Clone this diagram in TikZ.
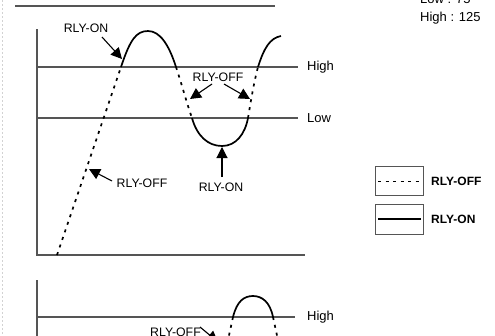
\documentclass[tikz,border=0pt]{standalone}
\usepackage{fontspec}
\setmainfont{Liberation Sans}
\usetikzlibrary{arrows.meta}
\definecolor{axisgray}{HTML}{555555}
\begin{document}
\begin{tikzpicture}[x=1pt,y=-1pt,
  axisline/.style={draw=axisgray,line width=1.4pt},
  refline/.style={draw=axisgray,line width=1.3pt},
  onseg/.style={draw=black,line width=1.7pt},
  offseg/.style={draw=black,line width=1.7pt,dash pattern=on 3pt off 5pt},
  lbl/.style={font=\fontsize{12.3}{14}\selectfont,inner sep=0pt},
  lvl/.style={font=\fontsize{13}{15}\selectfont,inner sep=0pt,anchor=west},
  legtxt/.style={font=\bfseries\fontsize{12}{14}\selectfont,inner sep=0pt,anchor=west},
  pointer/.style={draw=black,line width=1.1pt,-{Triangle[length=11pt,width=11pt]}},
  legbox/.style={draw=axisgray,line width=0.8pt}]
\useasboundingbox (0,0) rectangle (495,335);
% left dashed border
\draw[gray!35,line width=0.6pt,dash pattern=on 2pt off 2pt] (2,0) -- (2,335);
% top rule
\draw[axisline] (15,6) -- (275,6);
% corner text
\node[lvl,anchor=base west] (lowval) at (420,3) {Low : 75};
\node[lvl,anchor=base west] (highval) at (420,21) {High : 125};
% top panel axes
\coordinate (ax1top) at (37,29);
\coordinate (ax1org) at (37,255);
\coordinate (ax1end) at (305,255);
\draw[axisline] (ax1top) -- (ax1org) -- (ax1end);
\coordinate (hiA) at (37,67);
\coordinate (hiB) at (298,67);
\coordinate (loA) at (37,118);
\coordinate (loB) at (298,118);
\draw[refline] (hiA) -- (hiB);
\draw[refline] (loA) -- (loB);
\node[lvl] (hiL) at (307,67) {High};
\node[lvl] (loL) at (307,118) {Low};
% curve
\coordinate (c0) at (57,255);
\coordinate (c1) at (121,67);
\coordinate (c2) at (176,67);
\coordinate (c3) at (192,118);
\coordinate (c4) at (248,118);
\coordinate (c5) at (258,67);
\coordinate (c6) at (281,36);
\draw[offseg] (c0) -- (c1);
\draw[onseg] (c1) .. controls (130,40) and (136,31) .. (148,31) .. controls (160,31) and (169,45) .. (c2);
\draw[offseg] (c2) .. controls (182,85) and (187,104) .. (c3);
\draw[onseg] (c3) .. controls (197,136) and (208,146) .. (222,146) .. controls (236,146) and (245,134) .. (c4);
\draw[offseg] (c4) .. controls (251,100) and (254,82) .. (c5);
\draw[onseg] (c5) .. controls (264,48) and (270,38) .. (c6);
% labels and pointers
\node[lbl] (on1) at (86,28) {RLY-ON};
\coordinate (on1s) at (102,37);
\coordinate (on1t) at (122,59);
\draw[pointer] (on1s) -- (on1t);
\node[lbl] (off1) at (218,77) {RLY-OFF};
\coordinate (off1s) at (212,84);
\coordinate (off1t) at (190,99);
\coordinate (off2s) at (224,84);
\coordinate (off2t) at (250,99);
\draw[pointer] (off1s) -- (off1t);
\draw[pointer] (off2s) -- (off2t);
\node[lbl] (on2) at (221,187) {RLY-ON};
\coordinate (on2s) at (222,177);
\coordinate (on2t) at (222,147);
\draw[pointer] (on2s) -- (on2t);
\node[lbl] (off3) at (142,183) {RLY-OFF};
\coordinate (off3s) at (112,181);
\coordinate (off3t) at (89,169);
\draw[pointer] (off3s) -- (off3t);
% bottom panel
\coordinate (ax2top) at (37,280);
\coordinate (ax2bot) at (37,340);
\draw[axisline] (ax2top) -- (ax2bot);
\coordinate (hi2A) at (37,317);
\coordinate (hi2B) at (295,317);
\draw[refline] (hi2A) -- (hi2B);
\node[lvl] (hi2L) at (307,317) {High};
\coordinate (d1) at (233,317);
\coordinate (d2) at (273,317);
\coordinate (d1e) at (228,340);
\coordinate (d2e) at (278,340);
\draw[onseg] (d1) .. controls (237,301) and (244,296) .. (253,296) .. controls (262,296) and (270,302) .. (d2);
\draw[offseg] (d1) -- (d1e);
\draw[offseg] (d2) -- (d2e);
\node[lbl,anchor=base west] (off4) at (150,336) {RLY-OFF};
\coordinate (off4s) at (200,327);
\coordinate (off4t) at (218,342);
\draw[pointer] (off4s) -- (off4t);
% legend
\draw[legbox] (375,166) rectangle (423,195);
\draw[legbox] (375,204) rectangle (423,234);
\coordinate (lg1a) at (378,181);
\coordinate (lg1b) at (421,181);
\coordinate (lg2a) at (378,219);
\coordinate (lg2b) at (421,219);
\draw[black,line width=1pt,dash pattern=on 3pt off 4.5pt] (lg1a) -- (lg1b);
\draw[black,line width=1.2pt] (lg2a) -- (lg2b);
\node[legtxt] (legoff) at (431,181) {RLY-OFF};
\node[legtxt] (legon) at (431,219) {RLY-ON};
\end{tikzpicture}
\end{document}
